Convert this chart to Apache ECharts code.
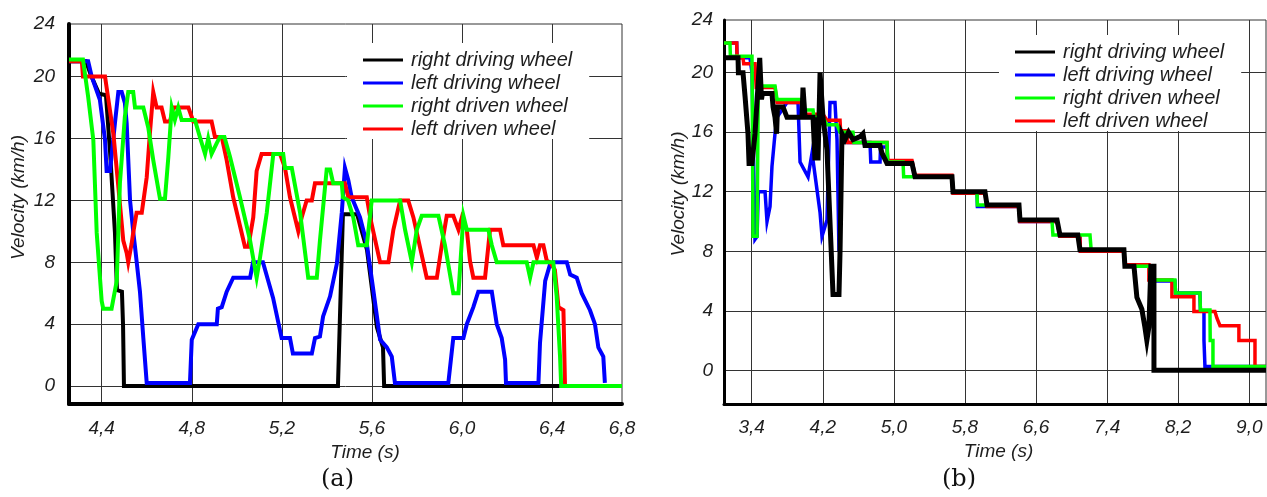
<!DOCTYPE html>
<html>
<head>
<meta charset="utf-8">
<script src="https://cdn.jsdelivr.net/npm/echarts@6/dist/echarts.min.js"></script>
<style>
html,body{margin:0;padding:0;background:#fff;}
#chart{width:1267px;height:497px;}
</style>
</head>
<body>
<div id="chart"></div>
<script>
// ---------- labels ----------
const seriesNames = ['right driving wheel', 'left driving wheel', 'right driven wheel', 'left driven wheel'];
const xTicksA = [4.4, 4.8, 5.2, 5.6, 6.0, 6.4];
const xEndLabelA = '6,8';
const xTicksB = [3.4, 4.2, 5.0, 5.8, 6.6, 7.4, 8.2, 9.0];
const yTicks = [0, 4, 8, 12, 16, 20];
const yTopLabel = '24';
const xName = 'Time (s)';
const yName = 'Velocity (km/h)';
const panelLabels = ['(a)', '(b)'];

// ---------- (a) data: [time s, velocity km/h] ----------
const aRightDriving = [[4.255,21],[4.330,21],[4.352,20.1],[4.388,18.9],[4.419,18.8],[4.437,15.2],[4.459,9.9],[4.468,6.2],[4.490,6.1],[4.495,3.9],[4.499,0],[5.449,0],[5.471,11.1],[5.534,11.1],[5.578,8.8],[5.622,3.8],[5.649,2.5],[5.654,0],[6.435,0]];
const aLeftDriving = [[4.255,21],[4.340,21],[4.356,20],[4.392,18.5],[4.415,15.9],[4.422,13.9],[4.437,13.9],[4.459,17],[4.474,19],[4.489,19],[4.503,18.3],[4.511,17],[4.526,12],[4.540,10],[4.548,9],[4.570,6.1],[4.585,3.1],[4.600,0.2],[4.792,0.2],[4.800,3],[4.829,4],[4.911,4],[4.916,5],[4.933,5.1],[4.955,6.1],[4.984,7],[5.059,7],[5.072,8],[5.116,8],[5.161,5.7],[5.199,3.1],[5.236,3.1],[5.249,2.1],[5.333,2.1],[5.347,3.1],[5.369,3.2],[5.383,4.5],[5.414,5.8],[5.444,7.9],[5.466,11.2],[5.480,14.1],[5.495,13.3],[5.510,12.2],[5.547,10.9],[5.577,9.2],[5.606,6.2],[5.636,3],[5.666,2.5],[5.688,1.9],[5.702,0.2],[5.939,0.2],[5.961,3.1],[6.006,3.1],[6.021,4],[6.050,5.1],[6.072,6.1],[6.132,6.1],[6.154,4],[6.176,3.1],[6.191,1.7],[6.195,0.2],[6.339,0.2],[6.346,2.8],[6.369,6.8],[6.391,7.9],[6.405,8],[6.465,8],[6.480,7.2],[6.509,7],[6.531,6],[6.568,4.9],[6.590,4],[6.605,2.5],[6.627,1.9],[6.634,0.2]];
const aRightDriven = [[4.255,21.1],[4.317,21.1],[4.340,18.7],[4.363,15.9],[4.378,9.9],[4.400,5.5],[4.407,5],[4.444,5],[4.467,6.8],[4.481,13.1],[4.503,17.4],[4.518,19],[4.540,19],[4.548,18],[4.585,18],[4.607,16.7],[4.629,14.6],[4.659,12.1],[4.681,12.1],[4.696,14.8],[4.711,18],[4.725,17.2],[4.740,18],[4.755,17.2],[4.814,17.2],[4.836,16.1],[4.859,15],[4.873,16],[4.888,15],[4.911,15.7],[4.925,16.1],[4.945,16.1],[4.970,14.8],[5.014,12.2],[5.059,9.4],[5.088,7],[5.103,8.3],[5.133,11.2],[5.162,15],[5.206,15],[5.214,14.1],[5.244,14.1],[5.281,11.2],[5.317,7],[5.355,7],[5.369,9.4],[5.399,14],[5.414,14],[5.428,13.1],[5.466,13.1],[5.471,12.2],[5.494,12],[5.517,10.9],[5.539,9.1],[5.577,9.1],[5.599,12],[5.725,12],[5.747,10.1],[5.777,8],[5.799,10.1],[5.821,11],[5.895,11],[5.924,9.1],[5.961,6],[5.984,6],[5.999,9.4],[6.006,11],[6.021,10.1],[6.117,10.1],[6.132,9.1],[6.154,8],[6.287,8],[6.302,7],[6.317,8],[6.405,8],[6.420,5.8],[6.435,1.9],[6.440,0],[6.710,0]];
const aLeftDriven = [[4.255,21],[4.312,21],[4.317,20],[4.415,20],[4.422,19.3],[4.452,16.3],[4.474,12.9],[4.496,9.4],[4.511,8.6],[4.518,8],[4.533,9.2],[4.540,9.9],[4.555,11.2],[4.578,11.2],[4.600,13.5],[4.614,16.3],[4.629,19],[4.644,18],[4.666,18],[4.681,17.1],[4.703,17.1],[4.718,18],[4.785,18],[4.807,17.1],[4.888,17.1],[4.903,16.1],[4.933,16.1],[4.955,14.6],[4.984,12.2],[5.036,9],[5.051,9],[5.073,10.9],[5.088,13.9],[5.110,15],[5.192,15],[5.214,14.1],[5.236,12.2],[5.258,10.9],[5.273,10],[5.288,10.9],[5.310,12],[5.333,12],[5.347,13.1],[5.480,13.1],[5.495,12.2],[5.577,12.2],[5.592,10.9],[5.636,8],[5.673,8],[5.695,10.1],[5.725,12],[5.761,12],[5.784,10.9],[5.828,8],[5.843,7],[5.888,7],[5.910,9.1],[5.932,11],[5.961,11],[5.984,10.1],[5.999,10.9],[6.021,10.1],[6.035,8.1],[6.050,7],[6.102,7],[6.117,9.1],[6.124,10.1],[6.169,10.1],[6.183,9.1],[6.317,9.1],[6.332,8.3],[6.346,9.1],[6.361,9.1],[6.376,8.1],[6.391,8],[6.412,7.5],[6.428,5.1],[6.450,4.9],[6.457,0],[6.710,0]];

// ---------- (b) data: [time s, velocity km/h] ----------
const bRightDriving = [[3.088,21],[3.246,21],[3.25,20],[3.302,20],[3.325,18.4],[3.358,15.9],[3.37,13.9],[3.403,13.9],[3.437,15.9],[3.49,21],[3.51,18.2],[3.52,18.6],[3.628,18.6],[3.64,17.7],[3.662,17],[3.68,15.9],[3.69,17.7],[3.752,17.7],[3.797,17],[3.966,17],[3.977,19],[4.0,17],[4.09,17],[4.112,14.1],[4.13,17],[4.146,14.1],[4.169,20],[4.202,17],[4.247,14.8],[4.315,5.1],[4.382,5.1],[4.394,8],[4.416,15.9],[4.45,15.5],[4.49,16],[4.54,15.5],[4.619,15.7],[4.652,15.9],[4.675,15.1],[4.844,15.1],[4.866,14.6],[4.923,13.9],[5.204,13.9],[5.238,13],[5.654,13],[5.665,12],[6.025,12],[6.048,11.1],[6.408,11.1],[6.419,10.1],[6.836,10.1],[6.869,9.1],[7.07,9.1],[7.094,8.1],[7.589,8.1],[7.6,7],[7.702,7],[7.735,4.9],[7.791,4.1],[7.825,2.9],[7.847,2],[7.87,2.9],[7.892,7],[7.927,7],[7.927,0],[9.188,0]];
const bLeftDriving = [[3.088,22],[3.231,22],[3.235,21],[3.38,21],[3.403,20],[3.437,8.8],[3.46,9],[3.474,12],[3.55,12],[3.572,10],[3.606,11],[3.628,13.7],[3.662,15.9],[3.685,17],[3.797,18],[3.921,18],[3.944,14],[4.034,13],[4.079,14.6],[4.169,10.6],[4.191,9],[4.247,10.1],[4.281,18],[4.337,18],[4.36,15.5],[4.382,8],[4.394,8],[4.416,15.5],[4.472,15.3],[4.731,15.3],[4.74,14],[4.844,14],[4.85,15],[4.923,15],[4.93,14],[5.204,14],[5.238,13],[5.654,13],[5.665,12],[5.935,12],[5.94,11],[6.408,11],[6.419,10],[6.836,10],[6.869,9],[7.094,9],[7.1,8],[7.589,8],[7.6,7],[7.881,7],[7.89,6],[8.163,6],[8.17,5.2],[8.444,5.2],[8.45,4],[8.49,4],[8.49,2],[8.501,0.25],[9.188,0.25]];
const bRightDriven = [[3.088,22],[3.155,22],[3.16,21.1],[3.403,21.1],[3.415,9],[3.46,9],[3.474,19.1],[3.662,19.1],[3.685,18.2],[3.966,18.2],[3.977,17.5],[4.09,17.5],[4.1,17],[4.202,17],[4.247,16.5],[4.36,16.5],[4.394,16],[4.54,16],[4.55,15.3],[4.923,15.3],[4.93,14],[5.103,14],[5.11,13],[5.654,13],[5.665,12],[5.935,12],[5.94,11.1],[6.408,11.1],[6.419,10.1],[6.779,10.1],[6.79,9.1],[7.207,9.1],[7.22,8.1],[7.589,8.1],[7.6,7],[7.881,7],[7.89,6.07],[8.163,6.07],[8.17,5.2],[8.444,5.2],[8.45,4.05],[8.557,4.05],[8.56,2],[8.591,2],[8.591,0.25],[9.188,0.25]];
const bLeftDriven = [[3.088,22],[3.231,22],[3.235,21],[3.302,21],[3.31,20.6],[3.437,20.6],[3.45,19],[3.662,19],[3.685,18],[3.966,18],[3.977,17.2],[4.202,17.2],[4.247,16.8],[4.394,16.8],[4.4,16.1],[4.472,16.1],[4.48,15.3],[4.923,15.3],[4.93,14.1],[5.204,14.1],[5.238,13.1],[5.654,13.1],[5.665,11.9],[6.025,11.9],[6.048,11],[6.408,11],[6.419,10],[6.836,10],[6.869,9],[7.094,9],[7.1,8],[7.589,8],[7.6,7.1],[7.87,7.1],[7.87,6.07],[8.129,6.07],[8.129,4.95],[8.377,4.95],[8.377,3.95],[8.613,3.95],[8.636,3.5],[8.67,3.0],[8.883,3.0],[8.883,2.0],[9.064,2.0],[9.064,0.25],[9.188,0.25]];

// ---------- axis ranges ----------
const rangeA = { xMin: 4.255, xMax: 6.71, yMin: -1.16, yMax: 23.4 };
const rangeB = { xMin: 3.088, xMax: 9.188, yMin: -2.265, yMax: 23.54 };

// ---------- styling ----------
const FONT = 'Liberation Sans, Arial, sans-serif';
const TXT = '#1e1e1e';
const GRIDC = '#333';
const COLORS = { black: '#000000', blue: '#0000ff', green: '#00ff00', red: '#ff0000' };

const comma = v => (Math.round(v * 10) / 10).toFixed(1).replace('.', ',');

function xAxisDef(idx, rng, ticks, endLabel, lw, margin, namePad, nameGap) {
  const labelVals = endLabel ? ticks.concat([rng.xMax]) : ticks.slice();
  return {
    gridIndex: idx, type: 'value', min: rng.xMin, max: rng.xMax,
    axisLine: { show: true, onZero: false, lineStyle: { color: '#000', width: lw } },
    axisTick: { show: false, customValues: ticks },
    splitLine: { show: true, lineStyle: { color: GRIDC, width: 1 } },
    axisLabel: {
      customValues: labelVals, margin: margin, color: TXT, fontSize: 19, fontStyle: 'italic', fontFamily: FONT,
      formatter: v => (endLabel && Math.abs(v - rng.xMax) < 1e-9) ? endLabel : comma(v)
    },
    name: xName, nameLocation: 'middle', nameGap: nameGap,
    nameTextStyle: { color: TXT, fontSize: 19, fontStyle: 'italic', fontFamily: FONT, padding: namePad }
  };
}
function yAxisDef(idx, rng, lw, margin, namePad, nameGap) {
  return {
    gridIndex: idx, type: 'value', min: rng.yMin, max: rng.yMax,
    axisLine: { show: true, onZero: false, lineStyle: { color: '#000', width: lw } },
    axisTick: { show: false, customValues: yTicks },
    splitLine: { show: true, lineStyle: { color: GRIDC, width: 1 } },
    axisLabel: {
      customValues: yTicks.concat([rng.yMax]), margin: margin, color: TXT, fontSize: 19, fontStyle: 'italic', fontFamily: FONT,
      formatter: v => Math.abs(v - rng.yMax) < 1e-9 ? yTopLabel : String(v)
    },
    name: yName, nameLocation: 'middle', nameRotate: 90, nameGap: nameGap,
    nameTextStyle: { color: TXT, fontSize: 19, fontStyle: 'italic', fontFamily: FONT, padding: namePad }
  };
}
function lineSeries(name, data, color, width, gi) {
  return {
    type: 'line', name: name, data: data, xAxisIndex: gi, yAxisIndex: gi,
    showSymbol: false, symbol: 'none', silent: true, animation: false,
    lineStyle: { color: color, width: width, join: 'miter' }, itemStyle: { color: color },
    emphasis: { disabled: true }
  };
}
function legendDef(left, top) {
  return {
    data: seriesNames, orient: 'vertical', left: left, top: top,
    icon: 'rect', itemWidth: 40, itemHeight: 3, itemGap: 3,
    padding: [7, 17, 0, 16], backgroundColor: '#fff', selectedMode: false,
    textStyle: { color: TXT, fontSize: 20, fontStyle: 'italic', fontFamily: FONT, lineHeight: 20, padding: [0, 0, 0, 3] }
  };
}

const chart = echarts.init(document.getElementById('chart'), null, { renderer: 'canvas' });
chart.setOption({
  animation: false,
  backgroundColor: '#fff',
  grid: [
    { left: 69, top: 24, width: 553, height: 380, show: true, borderColor: GRIDC, borderWidth: 1, containLabel: false, outerBoundsMode: 'none' },
    { left: 724, top: 20, width: 542, height: 384, show: true, borderColor: GRIDC, borderWidth: 1, containLabel: false, outerBoundsMode: 'none' }
  ],
  xAxis: [
    xAxisDef(0, rangeA, xTicksA, xEndLabelA, 4, 15, [0, 0, 0, 39], 36),
    xAxisDef(1, rangeB, xTicksB, null, 3, 14, [0, 0, 0, 7], 34)
  ],
  yAxis: [
    yAxisDef(0, rangeA, 4, 14, [0, 0, 0, 33], 41),
    yAxisDef(1, rangeB, 3, 11, [0, 0, 0, 36], 35)
  ],
  legend: [legendDef(347, 43), legendDef(999, 35)],
  graphic: [
    { type: 'text', left: 321, top: 468, style: { text: panelLabels[0], font: '24px "DejaVu Serif", serif', fill: '#111' } },
    { type: 'text', left: 942, top: 468, style: { text: panelLabels[1], font: '24px "DejaVu Serif", serif', fill: '#111' } }
  ],
  series: [
    lineSeries(seriesNames[0], aRightDriving, COLORS.black, 4, 0),
    lineSeries(seriesNames[1], aLeftDriving, COLORS.blue, 4, 0),
    lineSeries(seriesNames[3], aLeftDriven, COLORS.red, 4, 0),
    lineSeries(seriesNames[2], aRightDriven, COLORS.green, 4, 0),
    lineSeries(seriesNames[1], bLeftDriving, COLORS.blue, 3.5, 1),
    lineSeries(seriesNames[3], bLeftDriven, COLORS.red, 3.5, 1),
    lineSeries(seriesNames[2], bRightDriven, COLORS.green, 3.5, 1),
    lineSeries(seriesNames[0], bRightDriving, COLORS.black, 5, 1)
  ]
});
</script>
</body>
</html>
